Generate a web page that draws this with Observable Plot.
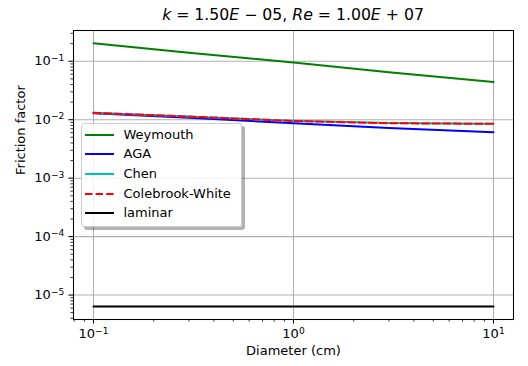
<!DOCTYPE html>
<html>
<head>
<meta charset="utf-8">
<script src="https://cdn.jsdelivr.net/npm/d3@7"></script>
<script src="https://cdn.jsdelivr.net/npm/@observablehq/plot@0.6"></script>
<style>
  body { margin: 0; background: #fff; font-family: "DejaVu Sans", sans-serif; }
  #wrap { position: relative; width: 528px; height: 366px; }
  #title { position: absolute; left: 73px; width: 440px; top: 7px; text-align: center; font-size: 15.7px; line-height: 15.7px; color: #000; white-space: nowrap; }
  #legend { position: absolute; left: 80.5px; top: 123px; width: 161px; height: 104px; border: 1px solid #cccccc; border-radius: 3px; background: rgba(255,255,255,0.85); box-shadow: 3px 3px 0 rgba(0,0,0,0.3); box-sizing: border-box; }
  .row { position: absolute; left: 0; height: 16px; width: 160px; }
  .row svg { position: absolute; left: 2.5px; top: 0; }
  .row span { position: absolute; left: 42px; top: 0; font-size: 13px; line-height: 16px; color: #000; white-space: nowrap; }
</style>
</head>
<body>
<div id="wrap">
  <div id="chart"></div>
  <div id="title"></div>
  <div id="legend"></div>
</div>
<script>
// ---- data ----
const kValue = "1.50E\u221205";
const reValue = "1.00E+07";
const diameters = [0.1, 0.3, 1, 3, 10];
const weymouth   = [0.203, 0.140, 0.095, 0.065, 0.044];
const aga        = [0.0129, 0.0108, 0.0087, 0.0072, 0.0061];
const chen       = [0.0131, 0.0113, 0.0096, 0.0088, 0.0085];
const colebrook  = [0.0131, 0.0113, 0.0095, 0.0087, 0.0085];
const laminar    = [6.4e-6, 6.4e-6, 6.4e-6, 6.4e-6, 6.4e-6];
const seriesNames = ["Weymouth", "AGA", "Chen", "Colebrook-White", "laminar"];
const xMajorTicks = [0.1, 1, 10];
const yMajorTicks = [1e-5, 1e-4, 1e-3, 1e-2, 1e-1];

// ---- styles ----
const colors = ["#008000", "#0000ff", "#00bfbf", "#ff0000", "#000000"];
const dashes = [null, null, null, "7.4,3.2", null];
const seriesValues = [weymouth, aga, chen, colebrook, laminar];

const rows = [];
seriesNames.forEach((name, i) => {
  diameters.forEach((d, j) => rows.push({series: name, idx: i, D: d, f: seriesValues[i][j]}));
});

function minorTicks(lo, hi) {
  const out = [];
  for (let e = lo; e <= hi; e++) for (let m = 2; m <= 9; m++) out.push(m * Math.pow(10, e));
  return out;
}
const xMinor = minorTicks(-2, 1).filter(v => v > 0.0794 && v < 12.58);
const yMinor = minorTicks(-6, -1).filter(v => v > 3.82e-6 && v < 0.336);

const fmtPow = v => "10^" + String(Math.round(Math.log10(v))).replace("-", "\u2212");

const lineMarks = seriesNames.map((name, i) =>
  Plot.line(rows.filter(r => r.idx === i), {
    x: "D", y: "f", stroke: colors[i], strokeWidth: 2,
    strokeDasharray: dashes[i] || undefined, curve: "linear"
  })
);

const chart = Plot.plot({
  width: 528, height: 366,
  marginTop: 30, marginLeft: 73, marginRight: 15, marginBottom: 47,
  style: {fontFamily: "DejaVu Sans, sans-serif", fontSize: "13px", color: "#000", background: "#fff"},
  x: {type: "log", domain: [Math.pow(10, -1.1), Math.pow(10, 1.1)]},
  y: {type: "log", domain: [Math.pow(10, -5.418), Math.pow(10, -0.474)]},
  marks: [
    Plot.gridX(xMajorTicks, {stroke: "#b0b0b0", strokeOpacity: 1, strokeWidth: 1.05}),
    Plot.gridY(yMajorTicks, {stroke: "#b0b0b0", strokeOpacity: 1, strokeWidth: 1.05}),
    ...lineMarks,
    Plot.frame({stroke: "#000", strokeWidth: 1.05}),
    Plot.axisX(xMajorTicks, {tickFormat: fmtPow, tickSize: 4.6, tickPadding: 5, fontSize: 13, label: null, strokeWidth: 1.05}),
    Plot.axisX(xMinor, {tickFormat: () => "", tickSize: 2.6, label: null, strokeWidth: 0.8}),
    Plot.axisY(yMajorTicks, {tickFormat: fmtPow, tickSize: 4.6, tickPadding: 4.6, fontSize: 13, label: null, strokeWidth: 1.05}),
    Plot.axisY(yMinor, {tickFormat: () => "", tickSize: 2.6, label: null, strokeWidth: 0.8}),
    Plot.text(["Diameter (cm)"], {frameAnchor: "bottom", dy: 35, fontSize: 13}),
    Plot.text(["Friction factor"], {frameAnchor: "left", dx: -53, rotate: -90, fontSize: 13})
  ]
});
document.getElementById("chart").appendChild(chart);

// render "10^e" tick labels with a real superscript
d3.select(chart).selectAll("text").each(function () {
  const t = this.textContent;
  if (!t || t.indexOf("10^") !== 0) return;
  const exp = t.slice(3);
  const sel = d3.select(this);
  sel.text(null);
  sel.append("tspan").text("10");
  sel.append("tspan").attr("font-size", "9.1px").attr("dy", "-4.6").text(exp);
});

document.getElementById("title").innerHTML =
  `<i>k</i> = ${kValue.replace("E", "<i>E</i>").replace("\u2212", " \u2212 ")}, <i>Re</i> = ${reValue.replace("E", "<i>E</i>").replace("+", " + ")}`;

const legend = document.getElementById("legend");
seriesNames.forEach((name, i) => {
  const row = document.createElement("div");
  row.className = "row";
  row.style.top = (2.5 + i * 19.7) + "px";
  row.innerHTML = `<svg width="34" height="16"><line x1="1" x2="30" y1="8" y2="8" stroke="${colors[i]}" stroke-width="2" ${dashes[i] ? `stroke-dasharray="${dashes[i]}"` : ""}/></svg><span>${name}</span>`;
  legend.appendChild(row);
});
</script>
</body>
</html>
